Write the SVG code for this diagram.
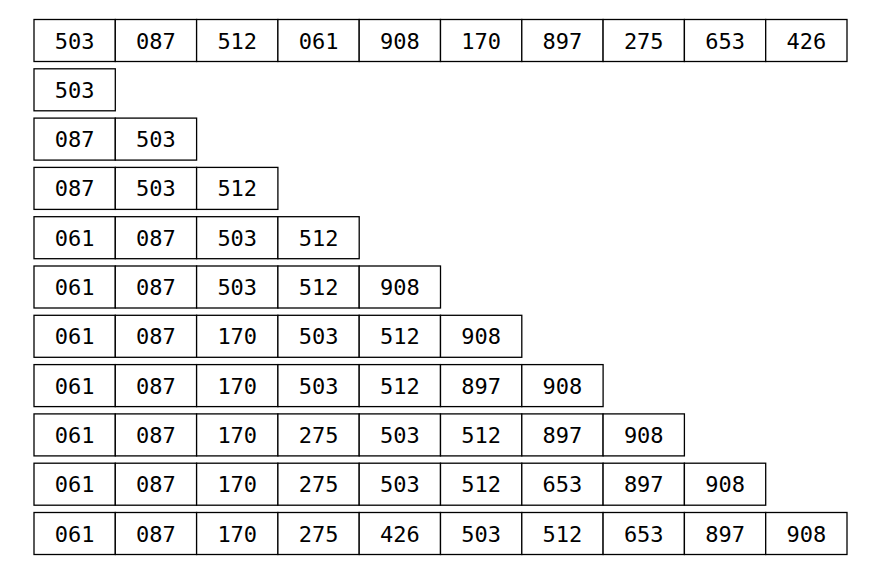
<svg xmlns="http://www.w3.org/2000/svg" width="890" height="577" viewBox="0 0 890 577">
<style>
rect{fill:#fff;stroke:#000;stroke-width:1.3}
text{font-family:"DejaVu Sans Mono","Liberation Mono",monospace;font-size:22px;text-anchor:middle;fill:#000}
</style>
<rect x="0" y="0" width="890" height="577" style="fill:#fff;stroke:none"/>
<g id="row0" transform="translate(0,19.5)">
<rect x="34" y="0" width="81.3" height="42"/><text x="74.65" y="29">503</text>
<rect x="115.3" y="0" width="81.3" height="42"/><text x="155.95" y="29">087</text>
<rect x="196.6" y="0" width="81.3" height="42"/><text x="237.25" y="29">512</text>
<rect x="277.9" y="0" width="81.3" height="42"/><text x="318.55" y="29">061</text>
<rect x="359.2" y="0" width="81.3" height="42"/><text x="399.85" y="29">908</text>
<rect x="440.5" y="0" width="81.3" height="42"/><text x="481.15" y="29">170</text>
<rect x="521.8" y="0" width="81.3" height="42"/><text x="562.45" y="29">897</text>
<rect x="603.1" y="0" width="81.3" height="42"/><text x="643.75" y="29">275</text>
<rect x="684.4" y="0" width="81.3" height="42"/><text x="725.05" y="29">653</text>
<rect x="765.7" y="0" width="81.3" height="42"/><text x="806.35" y="29">426</text>
</g>
<g id="row1" transform="translate(0,68.8)">
<rect x="34" y="0" width="81.3" height="42"/><text x="74.65" y="29">503</text>
</g>
<g id="row2" transform="translate(0,118.1)">
<rect x="34" y="0" width="81.3" height="42"/><text x="74.65" y="29">087</text>
<rect x="115.3" y="0" width="81.3" height="42"/><text x="155.95" y="29">503</text>
</g>
<g id="row3" transform="translate(0,167.4)">
<rect x="34" y="0" width="81.3" height="42"/><text x="74.65" y="29">087</text>
<rect x="115.3" y="0" width="81.3" height="42"/><text x="155.95" y="29">503</text>
<rect x="196.6" y="0" width="81.3" height="42"/><text x="237.25" y="29">512</text>
</g>
<g id="row4" transform="translate(0,216.7)">
<rect x="34" y="0" width="81.3" height="42"/><text x="74.65" y="29">061</text>
<rect x="115.3" y="0" width="81.3" height="42"/><text x="155.95" y="29">087</text>
<rect x="196.6" y="0" width="81.3" height="42"/><text x="237.25" y="29">503</text>
<rect x="277.9" y="0" width="81.3" height="42"/><text x="318.55" y="29">512</text>
</g>
<g id="row5" transform="translate(0,266)">
<rect x="34" y="0" width="81.3" height="42"/><text x="74.65" y="29">061</text>
<rect x="115.3" y="0" width="81.3" height="42"/><text x="155.95" y="29">087</text>
<rect x="196.6" y="0" width="81.3" height="42"/><text x="237.25" y="29">503</text>
<rect x="277.9" y="0" width="81.3" height="42"/><text x="318.55" y="29">512</text>
<rect x="359.2" y="0" width="81.3" height="42"/><text x="399.85" y="29">908</text>
</g>
<g id="row6" transform="translate(0,315.3)">
<rect x="34" y="0" width="81.3" height="42"/><text x="74.65" y="29">061</text>
<rect x="115.3" y="0" width="81.3" height="42"/><text x="155.95" y="29">087</text>
<rect x="196.6" y="0" width="81.3" height="42"/><text x="237.25" y="29">170</text>
<rect x="277.9" y="0" width="81.3" height="42"/><text x="318.55" y="29">503</text>
<rect x="359.2" y="0" width="81.3" height="42"/><text x="399.85" y="29">512</text>
<rect x="440.5" y="0" width="81.3" height="42"/><text x="481.15" y="29">908</text>
</g>
<g id="row7" transform="translate(0,364.6)">
<rect x="34" y="0" width="81.3" height="42"/><text x="74.65" y="29">061</text>
<rect x="115.3" y="0" width="81.3" height="42"/><text x="155.95" y="29">087</text>
<rect x="196.6" y="0" width="81.3" height="42"/><text x="237.25" y="29">170</text>
<rect x="277.9" y="0" width="81.3" height="42"/><text x="318.55" y="29">503</text>
<rect x="359.2" y="0" width="81.3" height="42"/><text x="399.85" y="29">512</text>
<rect x="440.5" y="0" width="81.3" height="42"/><text x="481.15" y="29">897</text>
<rect x="521.8" y="0" width="81.3" height="42"/><text x="562.45" y="29">908</text>
</g>
<g id="row8" transform="translate(0,413.9)">
<rect x="34" y="0" width="81.3" height="42"/><text x="74.65" y="29">061</text>
<rect x="115.3" y="0" width="81.3" height="42"/><text x="155.95" y="29">087</text>
<rect x="196.6" y="0" width="81.3" height="42"/><text x="237.25" y="29">170</text>
<rect x="277.9" y="0" width="81.3" height="42"/><text x="318.55" y="29">275</text>
<rect x="359.2" y="0" width="81.3" height="42"/><text x="399.85" y="29">503</text>
<rect x="440.5" y="0" width="81.3" height="42"/><text x="481.15" y="29">512</text>
<rect x="521.8" y="0" width="81.3" height="42"/><text x="562.45" y="29">897</text>
<rect x="603.1" y="0" width="81.3" height="42"/><text x="643.75" y="29">908</text>
</g>
<g id="row9" transform="translate(0,463.2)">
<rect x="34" y="0" width="81.3" height="42"/><text x="74.65" y="29">061</text>
<rect x="115.3" y="0" width="81.3" height="42"/><text x="155.95" y="29">087</text>
<rect x="196.6" y="0" width="81.3" height="42"/><text x="237.25" y="29">170</text>
<rect x="277.9" y="0" width="81.3" height="42"/><text x="318.55" y="29">275</text>
<rect x="359.2" y="0" width="81.3" height="42"/><text x="399.85" y="29">503</text>
<rect x="440.5" y="0" width="81.3" height="42"/><text x="481.15" y="29">512</text>
<rect x="521.8" y="0" width="81.3" height="42"/><text x="562.45" y="29">653</text>
<rect x="603.1" y="0" width="81.3" height="42"/><text x="643.75" y="29">897</text>
<rect x="684.4" y="0" width="81.3" height="42"/><text x="725.05" y="29">908</text>
</g>
<g id="row10" transform="translate(0,512.5)">
<rect x="34" y="0" width="81.3" height="42"/><text x="74.65" y="29">061</text>
<rect x="115.3" y="0" width="81.3" height="42"/><text x="155.95" y="29">087</text>
<rect x="196.6" y="0" width="81.3" height="42"/><text x="237.25" y="29">170</text>
<rect x="277.9" y="0" width="81.3" height="42"/><text x="318.55" y="29">275</text>
<rect x="359.2" y="0" width="81.3" height="42"/><text x="399.85" y="29">426</text>
<rect x="440.5" y="0" width="81.3" height="42"/><text x="481.15" y="29">503</text>
<rect x="521.8" y="0" width="81.3" height="42"/><text x="562.45" y="29">512</text>
<rect x="603.1" y="0" width="81.3" height="42"/><text x="643.75" y="29">653</text>
<rect x="684.4" y="0" width="81.3" height="42"/><text x="725.05" y="29">897</text>
<rect x="765.7" y="0" width="81.3" height="42"/><text x="806.35" y="29">908</text>
</g>
<g id="connectors"/>
</svg>
